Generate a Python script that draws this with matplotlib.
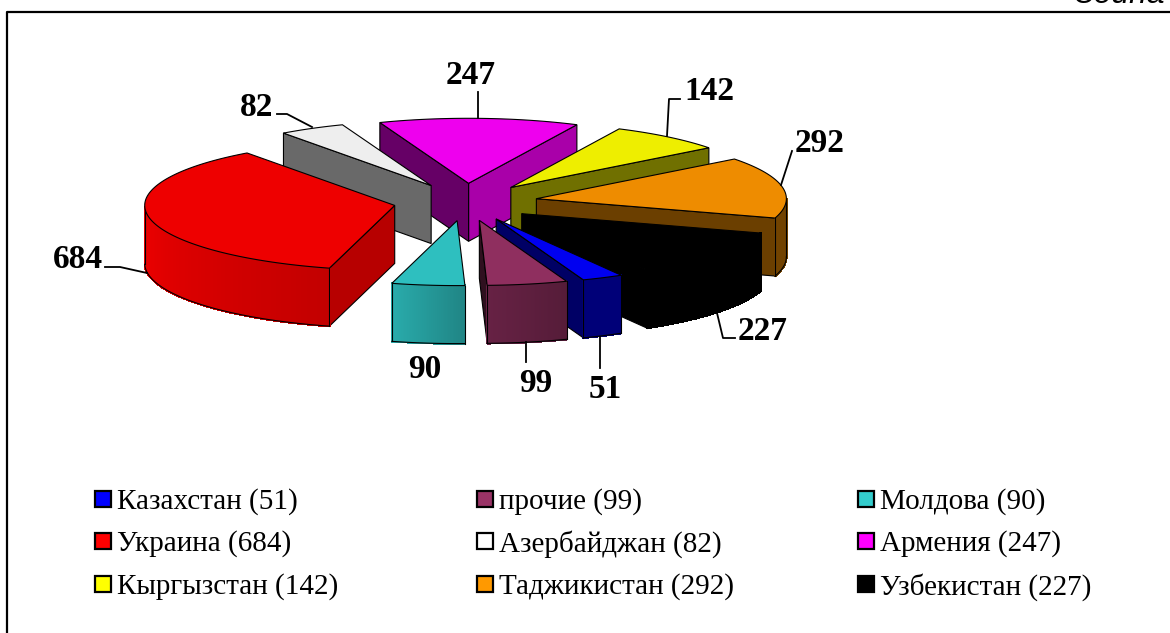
import numpy as np
import matplotlib
matplotlib.use('Agg')
import matplotlib.pyplot as plt
from matplotlib.patches import Polygon, Rectangle

plt.rcParams['font.family'] = ['Liberation Serif', 'DejaVu Sans']

# Data, clockwise from the first slice
names = ['Казахстан', 'прочие', 'Молдова', 'Украина', 'Азербайджан',
         'Армения', 'Кыргызстан', 'Таджикистан', 'Узбекистан']
values = [51, 99, 90, 684, 82, 247, 142, 292, 227]

# Colours
legend_colors = ['#0000FF', '#993366', '#33CCCC', '#FF0000', '#FFFFFF',
                 '#FF00FF', '#FFFF00', '#FF9900', '#000000']
top_colors = ['#0000F0', '#8F2F5F', '#2EBFBF', '#EE0000', '#EEEEEE',
              '#EE00EE', '#EEEE00', '#EE8C00', '#000000']
# brightness of the outer wall at both ends, and of the two cut faces
wall_shade = [(0.5, 0.5), (0.72, 0.6), (0.9, 0.7), (1.0, 0.82), (0.5, 0.5),
              (0.7, 0.7), (0.47, 0.47), (0.48, 0.48), (1, 1)]
start_face = [0.42, 0.33, 0.6, 0.77, 0.44, 0.71, 0.47, 0.45, 1]
end_face = [0.42, 0.33, 0.6, 0.77, 0.44, 0.43, 0.47, 0.45, 1]

# Pie geometry in pixels
cx, cy = 465.5, 202
rx, ry = 250, 65
explode = 72
depth = 58
start_angle = 300


def shade(color, k):
    return np.array(matplotlib.colors.to_rgb(color)) * k


def main():
    fig = plt.figure(figsize=(11.7, 6.33), dpi=100)
    ax = fig.add_axes([0, 0, 1, 1])
    ax.set_xlim(0, 1170)
    ax.set_ylim(633, 0)
    ax.axis('off')

    # Frame around the chart, open on the right and at the bottom
    ax.plot([1175, 7, 7], [12, 12, 640], color='black', lw=1.6, zorder=1)
    ax.text(1075, 3, 'Зоина', family='Liberation Sans', style='italic',
            fontsize=23, va='baseline', ha='left')

    sizes = np.array(values) / sum(values) * 360
    ends = start_angle - np.concatenate([[0], np.cumsum(sizes)[:-1]])
    starts = ends - sizes
    mids = starts + sizes / 2
    order = np.argsort(-np.sin(np.radians(mids)))

    z = 2
    for i in order:
        t1, t2 = starts[i], ends[i]
        m = np.radians(mids[i])
        ax0 = cx + explode * np.cos(m)
        ay0 = cy - explode * ry / rx * np.sin(m)

        t = np.radians(np.linspace(t1, t2, 100))
        xs = ax0 + rx * np.cos(t)
        ys = ay0 - ry * np.sin(t)

        # Cut faces, only those turned to the viewer
        a1, a2 = np.radians(t1), np.radians(t2)
        faces = []
        if np.cos(a1) > 0:
            faces.append((xs[0], ys[0], start_face[i]))
        if np.cos(a2) < 0:
            faces.append((xs[-1], ys[-1], end_face[i]))
        for ex, ey, k in faces:
            ax.add_patch(Polygon([(ax0, ay0), (ex, ey), (ex, ey + depth), (ax0, ay0 + depth)],
                                 fc=shade(top_colors[i], k), ec='black', lw=0.8, zorder=z))
            z += 1

        # Outer wall as thin strips for the gradient
        front = np.sin(t) < 0
        if front.any():
            idx = np.where(front)[0]
            s0, s1 = wall_shade[i]
            for n, j in enumerate(idx[:-1]):
                k = s0 + (s1 - s0) * n / max(len(idx) - 2, 1)
                c = shade(top_colors[i], k)
                ax.add_patch(Polygon([(xs[j], ys[j]), (xs[j + 1], ys[j + 1]),
                                      (xs[j + 1], ys[j + 1] + depth), (xs[j], ys[j] + depth)],
                                     fc=c, ec=c, lw=1.0, antialiased=False, zorder=z))
            z += 1
            ax.plot(xs[idx], ys[idx] + depth, color='black', lw=0.8, zorder=z)
            ax.plot([xs[idx[0]]] * 2, [ys[idx[0]], ys[idx[0]] + depth], color='black', lw=0.8, zorder=z)
            ax.plot([xs[idx[-1]]] * 2, [ys[idx[-1]], ys[idx[-1]] + depth], color='black', lw=0.8, zorder=z)
            z += 1

        # Top
        ax.add_patch(Polygon(np.column_stack([np.r_[ax0, xs], np.r_[ay0, ys]]),
                             fc=top_colors[i], ec='black', lw=0.8, zorder=z))
        z += 1

    # Data labels with their leader lines
    label_pos = [(605, 390), (536, 383), (425, 370), (78, 259), (257, 108),
                 (471, 75), (709, 91), (820, 143), (763, 331)]
    leaders = [[(600, 337), (600, 368)],
               [(526, 342), (526, 362)],
               None,
               [(105, 267), (120, 267), (147, 273)],
               [(277, 114), (287, 114), (312, 127)],
               [(478, 92), (478, 118)],
               [(680, 99), (669, 99), (667, 136)],
               [(792, 151), (781, 185)],
               [(735, 338), (723, 338), (717, 313)]]
    for v, p, line in zip(values, label_pos, leaders):
        ax.text(p[0], p[1], str(v), fontsize=24, fontweight='bold', ha='center', va='center', zorder=z)
        if line:
            lx, ly = zip(*line)
            ax.plot(lx, ly, color='black', lw=1.3, zorder=z)

    # Legend, three columns filled row by row
    col_x = [95, 477, 858]
    row_y = [499, 541, 584]
    for n, (name, v, c) in enumerate(zip(names, values, legend_colors)):
        x = col_x[n % 3]
        y = row_y[n // 3]
        ax.add_patch(Rectangle((x, y - 8), 16, 16, fc=c, ec='black', lw=1.6, zorder=z))
        ax.text(x + 22, y + 3, f'{name} ({v})', fontsize=21, ha='left', va='center', zorder=z)

    fig.savefig('out.png', dpi=100)


if __name__ == "__main__":
    main()
